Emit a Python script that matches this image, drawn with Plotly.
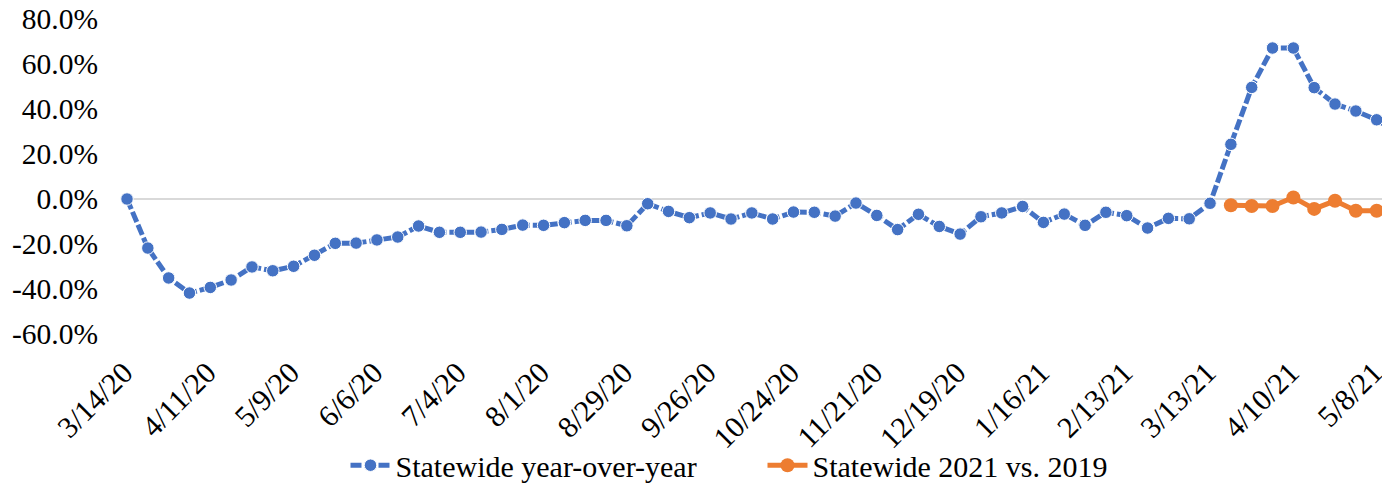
import pandas as pd
import plotly.graph_objects as go

# Weekly categories (week ending dates)
weeks = [d.strftime("%-m/%-d/%y") for d in pd.date_range("2020-03-14", periods=62, freq="7D")]

yoy = [0.0, -21.8, -35.1, -41.8, -39.3, -36.0, -30.2, -31.9, -29.9, -25.0,
       -19.7, -19.6, -18.2, -16.9, -12.0, -14.8, -14.8, -14.7, -13.5, -11.6,
       -11.7, -10.5, -9.5, -9.5, -11.9, -2.1, -5.5, -8.3, -6.2, -8.9,
       -6.2, -8.9, -5.8, -5.9, -7.6, -1.8, -7.3, -13.6, -6.8, -12.2,
       -15.6, -7.9, -6.2, -3.3, -10.4, -6.7, -11.7, -5.9, -7.4, -12.9,
       -8.6, -8.8, -1.9, 24.3, 49.6, 67.1, 67.1, 49.5, 42.2, 39.1,
       35.2, 29.6]

vs2019_weeks = weeks[53:]
vs2019 = [-2.8, -3.1, -3.1, 0.7, -4.4, -0.8, -5.2, -5.2, -1.4]

tick_labels = weeks[0:61:4]

y_tick_vals = [-0.6, -0.4, -0.2, 0.0, 0.2, 0.4, 0.6, 0.8]
y_tick_text = ["-60.0%", "-40.0%", "-20.0%", "0.0%", "20.0%", "40.0%", "60.0%", "80.0%"]

FONT = "Liberation Serif, Times New Roman, serif"

fig = go.Figure()
fig.add_trace(go.Scatter(
    x=weeks, y=[v / 100 for v in yoy], name="Statewide year-over-year",
    mode="lines+markers",
    line=dict(color="#4472C4", width=5, dash="11px,3px"),
    marker=dict(color="#4472C4", size=12.5, line=dict(color="white", width=1)),
    cliponaxis=False,
))
fig.add_trace(go.Scatter(
    x=vs2019_weeks, y=[v / 100 for v in vs2019], name="Statewide 2021 vs. 2019",
    mode="lines+markers",
    line=dict(color="#ED7D31", width=5),
    marker=dict(color="#ED7D31", size=14),
    cliponaxis=False,
))

# page body has an 8px margin, so the figure is offset by 8px
fig.update_layout(
    width=1382, height=479,
    margin=dict(l=119, r=0, t=11, b=153, pad=0, autoexpand=False),
    paper_bgcolor="white", plot_bgcolor="white",
    font=dict(family=FONT, size=30, color="black"),
    showlegend=True,
    legend=dict(orientation="h", x=0.173, xanchor="left", y=-0.334, yanchor="top",
                font=dict(family=FONT, size=30), itemwidth=40,
                entrywidth=362, entrywidthmode="pixels",
                bgcolor="rgba(0,0,0,0)"),
    xaxis=dict(type="category", categoryorder="array", categoryarray=weeks,
               range=[0, 60.64], tickvals=tick_labels, ticktext=tick_labels,
               tickangle=-45, showgrid=False, showline=False, zeroline=False,
               automargin=False, ticklabelstandoff=14, ticklabelshift=-3,
               ticklabeloverflow="allow",
               ticks="", tickfont=dict(family=FONT, size=30)),
    yaxis=dict(range=[-0.6, 0.8], tickvals=y_tick_vals, ticktext=y_tick_text,
               showgrid=False, zeroline=True, zerolinecolor="#D9D9D9",
               zerolinewidth=1.5, showline=False, ticks="", automargin=False,
               ticklabeloverflow="allow",
               ticklabelstandoff=28, tickfont=dict(family=FONT, size=29.5)),
)

fig.write_html("out.html")
